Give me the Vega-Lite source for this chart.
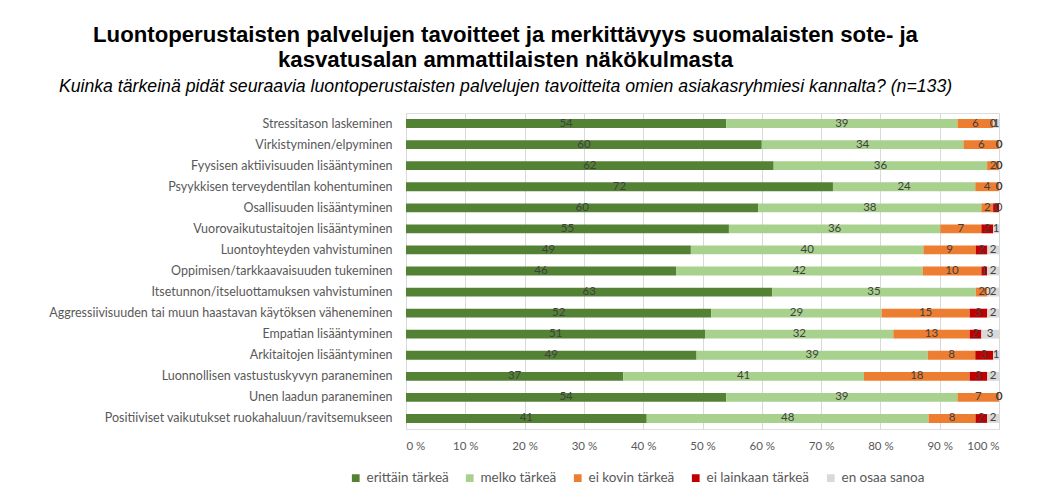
{
  "$schema": "https://vega.github.io/schema/vega-lite/v6.json",
  "width": 593,
  "height": 316,
  "autosize": {"type": "none"},
  "padding": {"left": 406, "top": 113, "right": 60, "bottom": 73},
  "background": "white",
  "title": {
    "text": ["Luontoperustaisten palvelujen tavoitteet ja merkittävyys suomalaisten sote- ja", "kasvatusalan ammattilaisten näkökulmasta"],
    "subtitle": "Kuinka tärkeinä pidät seuraavia luontoperustaisten palvelujen tavoitteita omien asiakasryhmiesi kannalta? (n=133)",
    "anchor": "middle",
    "frame": "group",
    "dx": -197,
    "offset": 17,
    "font": "Liberation Sans",
    "fontSize": 22.2,
    "fontWeight": "bold",
    "color": "#000000",
    "lineHeight": 25,
    "subtitleFont": "Liberation Sans",
    "subtitleFontSize": 17.7,
    "subtitleFontStyle": "italic",
    "subtitleColor": "#000000",
    "subtitlePadding": 7
  },
  "data": {
    "values": [
      {"tavoite": "Stressitason laskeminen", "vastaus": "erittäin tärkeä", "osuus": 54},
      {"tavoite": "Stressitason laskeminen", "vastaus": "melko tärkeä", "osuus": 39},
      {"tavoite": "Stressitason laskeminen", "vastaus": "ei kovin tärkeä", "osuus": 6},
      {"tavoite": "Stressitason laskeminen", "vastaus": "ei lainkaan tärkeä", "osuus": 0},
      {"tavoite": "Stressitason laskeminen", "vastaus": "en osaa sanoa", "osuus": 1},
      {"tavoite": "Virkistyminen/elpyminen", "vastaus": "erittäin tärkeä", "osuus": 60},
      {"tavoite": "Virkistyminen/elpyminen", "vastaus": "melko tärkeä", "osuus": 34},
      {"tavoite": "Virkistyminen/elpyminen", "vastaus": "ei kovin tärkeä", "osuus": 6},
      {"tavoite": "Virkistyminen/elpyminen", "vastaus": "ei lainkaan tärkeä", "osuus": 0},
      {"tavoite": "Virkistyminen/elpyminen", "vastaus": "en osaa sanoa", "osuus": 0},
      {"tavoite": "Fyysisen aktiivisuuden lisääntyminen", "vastaus": "erittäin tärkeä", "osuus": 62},
      {"tavoite": "Fyysisen aktiivisuuden lisääntyminen", "vastaus": "melko tärkeä", "osuus": 36},
      {"tavoite": "Fyysisen aktiivisuuden lisääntyminen", "vastaus": "ei kovin tärkeä", "osuus": 2},
      {"tavoite": "Fyysisen aktiivisuuden lisääntyminen", "vastaus": "ei lainkaan tärkeä", "osuus": 0},
      {"tavoite": "Fyysisen aktiivisuuden lisääntyminen", "vastaus": "en osaa sanoa", "osuus": 0},
      {"tavoite": "Psyykkisen terveydentilan kohentuminen", "vastaus": "erittäin tärkeä", "osuus": 72},
      {"tavoite": "Psyykkisen terveydentilan kohentuminen", "vastaus": "melko tärkeä", "osuus": 24},
      {"tavoite": "Psyykkisen terveydentilan kohentuminen", "vastaus": "ei kovin tärkeä", "osuus": 4},
      {"tavoite": "Psyykkisen terveydentilan kohentuminen", "vastaus": "ei lainkaan tärkeä", "osuus": 0},
      {"tavoite": "Psyykkisen terveydentilan kohentuminen", "vastaus": "en osaa sanoa", "osuus": 0},
      {"tavoite": "Osallisuuden lisääntyminen", "vastaus": "erittäin tärkeä", "osuus": 60},
      {"tavoite": "Osallisuuden lisääntyminen", "vastaus": "melko tärkeä", "osuus": 38},
      {"tavoite": "Osallisuuden lisääntyminen", "vastaus": "ei kovin tärkeä", "osuus": 2},
      {"tavoite": "Osallisuuden lisääntyminen", "vastaus": "ei lainkaan tärkeä", "osuus": 1},
      {"tavoite": "Osallisuuden lisääntyminen", "vastaus": "en osaa sanoa", "osuus": 0},
      {"tavoite": "Vuorovaikutustaitojen lisääntyminen", "vastaus": "erittäin tärkeä", "osuus": 55},
      {"tavoite": "Vuorovaikutustaitojen lisääntyminen", "vastaus": "melko tärkeä", "osuus": 36},
      {"tavoite": "Vuorovaikutustaitojen lisääntyminen", "vastaus": "ei kovin tärkeä", "osuus": 7},
      {"tavoite": "Vuorovaikutustaitojen lisääntyminen", "vastaus": "ei lainkaan tärkeä", "osuus": 2},
      {"tavoite": "Vuorovaikutustaitojen lisääntyminen", "vastaus": "en osaa sanoa", "osuus": 1},
      {"tavoite": "Luontoyhteyden vahvistuminen", "vastaus": "erittäin tärkeä", "osuus": 49},
      {"tavoite": "Luontoyhteyden vahvistuminen", "vastaus": "melko tärkeä", "osuus": 40},
      {"tavoite": "Luontoyhteyden vahvistuminen", "vastaus": "ei kovin tärkeä", "osuus": 9},
      {"tavoite": "Luontoyhteyden vahvistuminen", "vastaus": "ei lainkaan tärkeä", "osuus": 2},
      {"tavoite": "Luontoyhteyden vahvistuminen", "vastaus": "en osaa sanoa", "osuus": 2},
      {"tavoite": "Oppimisen/tarkkaavaisuuden tukeminen", "vastaus": "erittäin tärkeä", "osuus": 46},
      {"tavoite": "Oppimisen/tarkkaavaisuuden tukeminen", "vastaus": "melko tärkeä", "osuus": 42},
      {"tavoite": "Oppimisen/tarkkaavaisuuden tukeminen", "vastaus": "ei kovin tärkeä", "osuus": 10},
      {"tavoite": "Oppimisen/tarkkaavaisuuden tukeminen", "vastaus": "ei lainkaan tärkeä", "osuus": 1},
      {"tavoite": "Oppimisen/tarkkaavaisuuden tukeminen", "vastaus": "en osaa sanoa", "osuus": 2},
      {"tavoite": "Itsetunnon/itseluottamuksen vahvistuminen", "vastaus": "erittäin tärkeä", "osuus": 63},
      {"tavoite": "Itsetunnon/itseluottamuksen vahvistuminen", "vastaus": "melko tärkeä", "osuus": 35},
      {"tavoite": "Itsetunnon/itseluottamuksen vahvistuminen", "vastaus": "ei kovin tärkeä", "osuus": 2},
      {"tavoite": "Itsetunnon/itseluottamuksen vahvistuminen", "vastaus": "ei lainkaan tärkeä", "osuus": 0},
      {"tavoite": "Itsetunnon/itseluottamuksen vahvistuminen", "vastaus": "en osaa sanoa", "osuus": 2},
      {"tavoite": "Aggressiivisuuden tai muun haastavan käytöksen väheneminen", "vastaus": "erittäin tärkeä", "osuus": 52},
      {"tavoite": "Aggressiivisuuden tai muun haastavan käytöksen väheneminen", "vastaus": "melko tärkeä", "osuus": 29},
      {"tavoite": "Aggressiivisuuden tai muun haastavan käytöksen väheneminen", "vastaus": "ei kovin tärkeä", "osuus": 15},
      {"tavoite": "Aggressiivisuuden tai muun haastavan käytöksen väheneminen", "vastaus": "ei lainkaan tärkeä", "osuus": 3},
      {"tavoite": "Aggressiivisuuden tai muun haastavan käytöksen väheneminen", "vastaus": "en osaa sanoa", "osuus": 2},
      {"tavoite": "Empatian lisääntyminen", "vastaus": "erittäin tärkeä", "osuus": 51},
      {"tavoite": "Empatian lisääntyminen", "vastaus": "melko tärkeä", "osuus": 32},
      {"tavoite": "Empatian lisääntyminen", "vastaus": "ei kovin tärkeä", "osuus": 13},
      {"tavoite": "Empatian lisääntyminen", "vastaus": "ei lainkaan tärkeä", "osuus": 2},
      {"tavoite": "Empatian lisääntyminen", "vastaus": "en osaa sanoa", "osuus": 3},
      {"tavoite": "Arkitaitojen lisääntyminen", "vastaus": "erittäin tärkeä", "osuus": 49},
      {"tavoite": "Arkitaitojen lisääntyminen", "vastaus": "melko tärkeä", "osuus": 39},
      {"tavoite": "Arkitaitojen lisääntyminen", "vastaus": "ei kovin tärkeä", "osuus": 8},
      {"tavoite": "Arkitaitojen lisääntyminen", "vastaus": "ei lainkaan tärkeä", "osuus": 3},
      {"tavoite": "Arkitaitojen lisääntyminen", "vastaus": "en osaa sanoa", "osuus": 1},
      {"tavoite": "Luonnollisen vastustuskyvyn paraneminen", "vastaus": "erittäin tärkeä", "osuus": 37},
      {"tavoite": "Luonnollisen vastustuskyvyn paraneminen", "vastaus": "melko tärkeä", "osuus": 41},
      {"tavoite": "Luonnollisen vastustuskyvyn paraneminen", "vastaus": "ei kovin tärkeä", "osuus": 18},
      {"tavoite": "Luonnollisen vastustuskyvyn paraneminen", "vastaus": "ei lainkaan tärkeä", "osuus": 3},
      {"tavoite": "Luonnollisen vastustuskyvyn paraneminen", "vastaus": "en osaa sanoa", "osuus": 2},
      {"tavoite": "Unen laadun paraneminen", "vastaus": "erittäin tärkeä", "osuus": 54},
      {"tavoite": "Unen laadun paraneminen", "vastaus": "melko tärkeä", "osuus": 39},
      {"tavoite": "Unen laadun paraneminen", "vastaus": "ei kovin tärkeä", "osuus": 7},
      {"tavoite": "Unen laadun paraneminen", "vastaus": "ei lainkaan tärkeä", "osuus": 0},
      {"tavoite": "Unen laadun paraneminen", "vastaus": "en osaa sanoa", "osuus": 0},
      {"tavoite": "Positiiviset vaikutukset ruokahaluun/ravitsemukseen", "vastaus": "erittäin tärkeä", "osuus": 41},
      {"tavoite": "Positiiviset vaikutukset ruokahaluun/ravitsemukseen", "vastaus": "melko tärkeä", "osuus": 48},
      {"tavoite": "Positiiviset vaikutukset ruokahaluun/ravitsemukseen", "vastaus": "ei kovin tärkeä", "osuus": 8},
      {"tavoite": "Positiiviset vaikutukset ruokahaluun/ravitsemukseen", "vastaus": "ei lainkaan tärkeä", "osuus": 2},
      {"tavoite": "Positiiviset vaikutukset ruokahaluun/ravitsemukseen", "vastaus": "en osaa sanoa", "osuus": 2}
    ]
  },
  "transform": [
    {"calculate": "indexof(['erittäin tärkeä','melko tärkeä','ei kovin tärkeä','ei lainkaan tärkeä','en osaa sanoa'], datum.vastaus)", "as": "jarjestys"},
    {"stack": "osuus", "groupby": ["tavoite"], "sort": [{"field": "jarjestys", "order": "ascending"}], "offset": "normalize", "as": ["x0", "x1"]},
    {"calculate": "(datum.x0 + datum.x1) / 2", "as": "xm"}
  ],
  "encoding": {
    "y": {
      "field": "tavoite",
      "type": "nominal",
      "sort": ["Stressitason laskeminen", "Virkistyminen/elpyminen", "Fyysisen aktiivisuuden lisääntyminen", "Psyykkisen terveydentilan kohentuminen", "Osallisuuden lisääntyminen", "Vuorovaikutustaitojen lisääntyminen", "Luontoyhteyden vahvistuminen", "Oppimisen/tarkkaavaisuuden tukeminen", "Itsetunnon/itseluottamuksen vahvistuminen", "Aggressiivisuuden tai muun haastavan käytöksen väheneminen", "Empatian lisääntyminen", "Arkitaitojen lisääntyminen", "Luonnollisen vastustuskyvyn paraneminen", "Unen laadun paraneminen", "Positiiviset vaikutukset ruokahaluun/ravitsemukseen"],
      "scale": {"paddingInner": 0.58, "paddingOuter": 0.29},
      "axis": {
        "title": null,
        "domain": false,
        "ticks": false,
        "labelFont": "Lato",
        "labelFontSize": 12.5,
        "labelColor": "#595959",
        "labelPadding": 14,
        "labelLimit": 400
      }
    }
  },
  "layer": [
    {
      "mark": {"type": "bar"},
      "encoding": {
        "x": {
          "field": "x0",
          "type": "quantitative",
          "scale": {"domain": [0, 1]},
          "axis": {
            "title": null,
            "values": [0, 0.1, 0.2, 0.3, 0.4, 0.5, 0.6, 0.7, 0.8, 0.9, 1],
            "labelExpr": "format(datum.value * 100, 'd') + ' %'",
            "grid": true,
            "gridColor": "#d9d9d9",
            "domain": false,
            "ticks": false,
            "labelFont": "Lato",
            "labelFontSize": 11.5,
            "labelColor": "#595959",
            "labelPadding": 11
          }
        },
        "x2": {"field": "x1"},
        "color": {
          "field": "vastaus",
          "type": "nominal",
          "scale": {
            "domain": ["erittäin tärkeä", "melko tärkeä", "ei kovin tärkeä", "ei lainkaan tärkeä", "en osaa sanoa"],
            "range": ["#548235", "#a9d18e", "#ed7d31", "#c00000", "#d9d9d9"]
          },
          "legend": {
            "title": null,
            "orient": "none",
            "legendX": -57,
            "legendY": 358,
            "direction": "horizontal",
            "symbolType": "square",
            "symbolSize": 60,
            "symbolStrokeWidth": 0,
            "labelFont": "Lato",
            "labelFontSize": 13.5,
            "labelColor": "#595959",
            "columnPadding": 14,
            "labelOffset": 4
          }
        }
      }
    },
    {
      "mark": {"type": "text", "font": "Lato", "fontSize": 11.5, "color": "#404040", "align": "center", "baseline": "middle"},
      "encoding": {
        "x": {"field": "xm", "type": "quantitative"},
        "text": {"field": "osuus", "type": "quantitative"}
      }
    }
  ]
}
